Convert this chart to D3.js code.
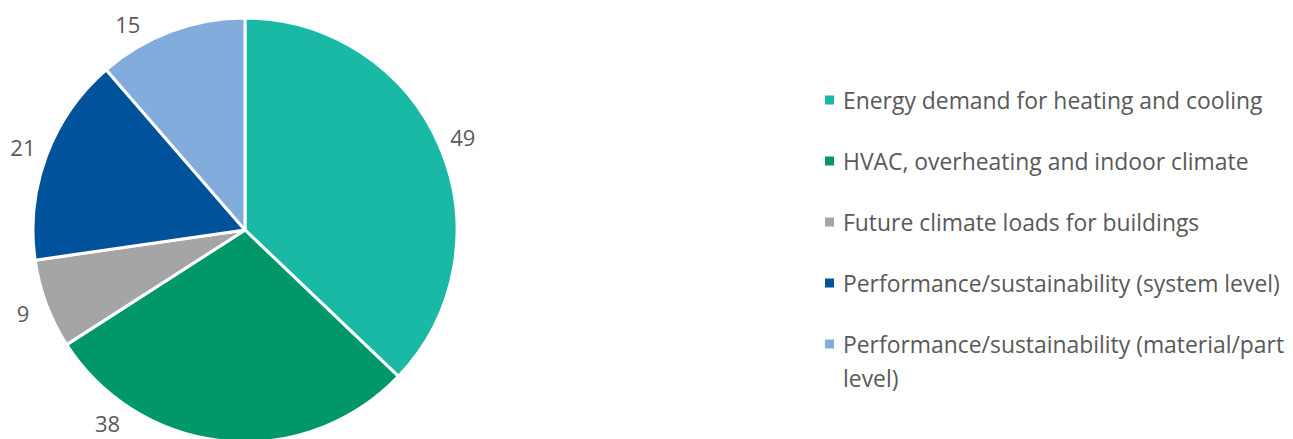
<!DOCTYPE html>
<html><head><meta charset="utf-8">
<script src="https://cdn.jsdelivr.net/npm/d3@7"></script>
<style>html,body{margin:0;padding:0;background:#fff;}svg{display:block;}</style>
</head><body><svg id="c" width="1293" height="439"></svg>
<script>
const categories = [
  "Energy demand for heating and cooling",
  "HVAC, overheating and indoor climate",
  "Future climate loads for buildings",
  "Performance/sustainability (system level)",
  "Performance/sustainability (material/part level)"
];
const values = [49, 38, 9, 21, 15];
const colors = ["#1AB9A6", "#02976A", "#A5A5A5", "#00529B", "#82ACDC"];

const W = 1293, H = 439;
const cx = 245, cy = 230, R = 212, labelR = 237;
const font = "'Open Sans', Lato, sans-serif";
const fsLegend = 22.9, fsLabel = 22;
const svg = d3.select("#c");

const pie = d3.pie().sort(null).value(d => d)(values);
const arc = d3.arc().innerRadius(0).outerRadius(R);
const g = svg.append("g").attr("transform", `translate(${cx},${cy})`);
g.selectAll("path").data(pie).join("path")
  .attr("d", arc).attr("fill", (d, i) => colors[i])
  .attr("stroke", "#fff").attr("stroke-width", 3).attr("stroke-linejoin", "round");

// labels at mid angle, clamped to the visible area
const maxY = H - 16 - cy, minY = 24 - cy;
g.selectAll("text.lab").data(pie).join("text").attr("class", "lab")
  .each(function (d) {
    let a = (d.startAngle + d.endAngle) / 2;
    let x = labelR * Math.sin(a), y = -labelR * Math.cos(a);
    if (y > maxY) {
      const t = Math.acos(maxY / labelR);
      a = x < 0 ? Math.PI + t : Math.PI - t;
    } else if (y < minY) {
      const t = Math.acos(-minY / labelR);
      a = x < 0 ? 2 * Math.PI - t : t;
    }
    x = labelR * Math.sin(a); y = -labelR * Math.cos(a);
    d3.select(this).attr("x", x).attr("y", y);
  })
  .attr("text-anchor", "middle").attr("dominant-baseline", "central")
  .attr("font-family", font).attr("font-size", fsLabel).attr("fill", "#595959")
  .text(d => d.data);

// legend
const lx = 843, ly0 = 100, step = 61, maxW = W - lx - 1;
const lg = svg.append("g");
categories.forEach((c, i) => {
  const y = ly0 + i * step;
  lg.append("rect").attr("x", lx - 18).attr("y", y - 4.5).attr("width", 9).attr("height", 9).attr("fill", colors[i]);
  const t = lg.append("text").attr("x", lx).attr("y", y)
    .attr("dominant-baseline", "central")
    .attr("font-family", font).attr("font-size", fsLegend).attr("fill", "#595959");
  const words = c.split(" ");
  let line = [], ts = t.append("tspan").attr("x", lx);
  words.forEach(w => {
    line.push(w);
    ts.text(line.join(" "));
    if (ts.node().getComputedTextLength() > maxW && line.length > 1) {
      line.pop(); ts.text(line.join(" "));
      line = [w];
      ts = t.append("tspan").attr("x", lx).attr("dy", 34).text(w);
    }
  });
});
</script></body></html>
